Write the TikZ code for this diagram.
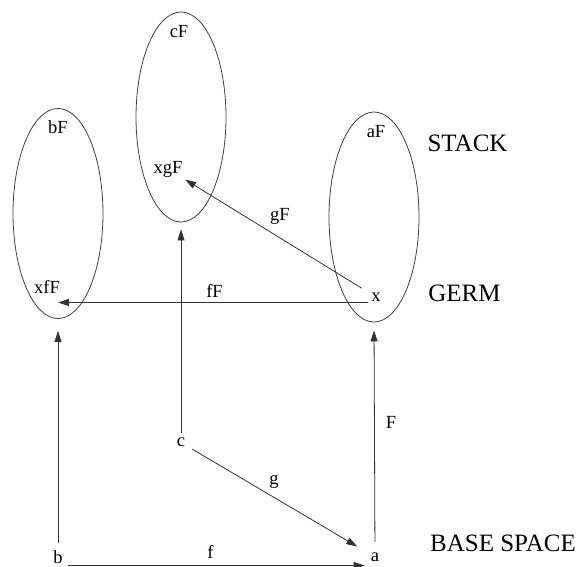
\documentclass[tikz,border=0pt]{standalone}
\usepackage{fontspec}
\setmainfont{Liberation Serif}
\usetikzlibrary{shapes.geometric,arrows.meta}
\begin{document}
\begin{tikzpicture}[x=1pt,y=-1pt,
  lbl/.style={font=\fontsize{18.5}{19}\selectfont,inner sep=1pt},
  big/.style={font=\fontsize{25}{26}\selectfont,inner sep=1pt},
  fibre/.style={draw=black!75,line width=0.8pt,ellipse,inner sep=0pt,minimum width=90pt,minimum height=210pt},
  arr/.style={draw=black!80,line width=0.8pt,-{Triangle[length=11pt,width=7pt]}}]
\useasboundingbox (0,0) rectangle (581,567);
% stalks
\node[fibre] (bE) at (58,213.5) {};
\node[fibre] (cE) at (181,117) {};
\node[fibre] (aE) at (374,217) {};
% labels inside stalks
\node[lbl] (bF) at (58,127.5) {bF};
\node[lbl] (cF) at (179,32) {cF};
\node[lbl] (aF) at (376,131.5) {aF};
\node[lbl] (xgF) at (168,169) {xgF};
\node[lbl] (xfF) at (47,287) {xfF};
\node[lbl] (x) at (376,297) {x};
% base points
\node[lbl] (b) at (58,557) {b};
\node[lbl] (c) at (181,442.5) {c};
\node[lbl] (a) at (375,557) {a};
% level names
\node[big] (stack) at (467.5,143.5) {STACK};
\node[big] (germ) at (464.5,293) {GERM};
\node[big] (base) at (503,543) {BASE SPACE};
% connectors
\draw[arr,shorten <=6.5pt,shorten >=12pt] (b) -- (bE.south);
\draw[arr,shorten <=4pt,shorten >=7pt] (c) -- (cE.south);
\draw[arr,shorten <=9.5pt,shorten >=8pt] (a) -- (aE.south);
\draw[arr,shorten <=7pt,shorten >=14.5pt] (c) -- (a);
\draw[arr,shorten <=4pt,shorten >=5pt] ([yshift=-8.5pt]b.east) -- ([yshift=-8.5pt]a.west);
\draw[arr,shorten <=2pt,shorten >=11pt] ([yshift=-5.5pt]x.west) -- ([yshift=-5.5pt]x.west -| xfF.center);
\draw[arr,shorten <=10pt,shorten >=2.5pt] (x) -- (xgF);
% connector labels
\node[lbl] (fF) at (214.5,290.5) {fF};
\node[lbl] (gF) at (280,216) {gF};
\node[lbl] (f) at (210.5,552) {f};
\node[lbl] (g) at (274,482) {g};
\node[lbl] (F) at (391,422) {F};
\end{tikzpicture}
\end{document}
